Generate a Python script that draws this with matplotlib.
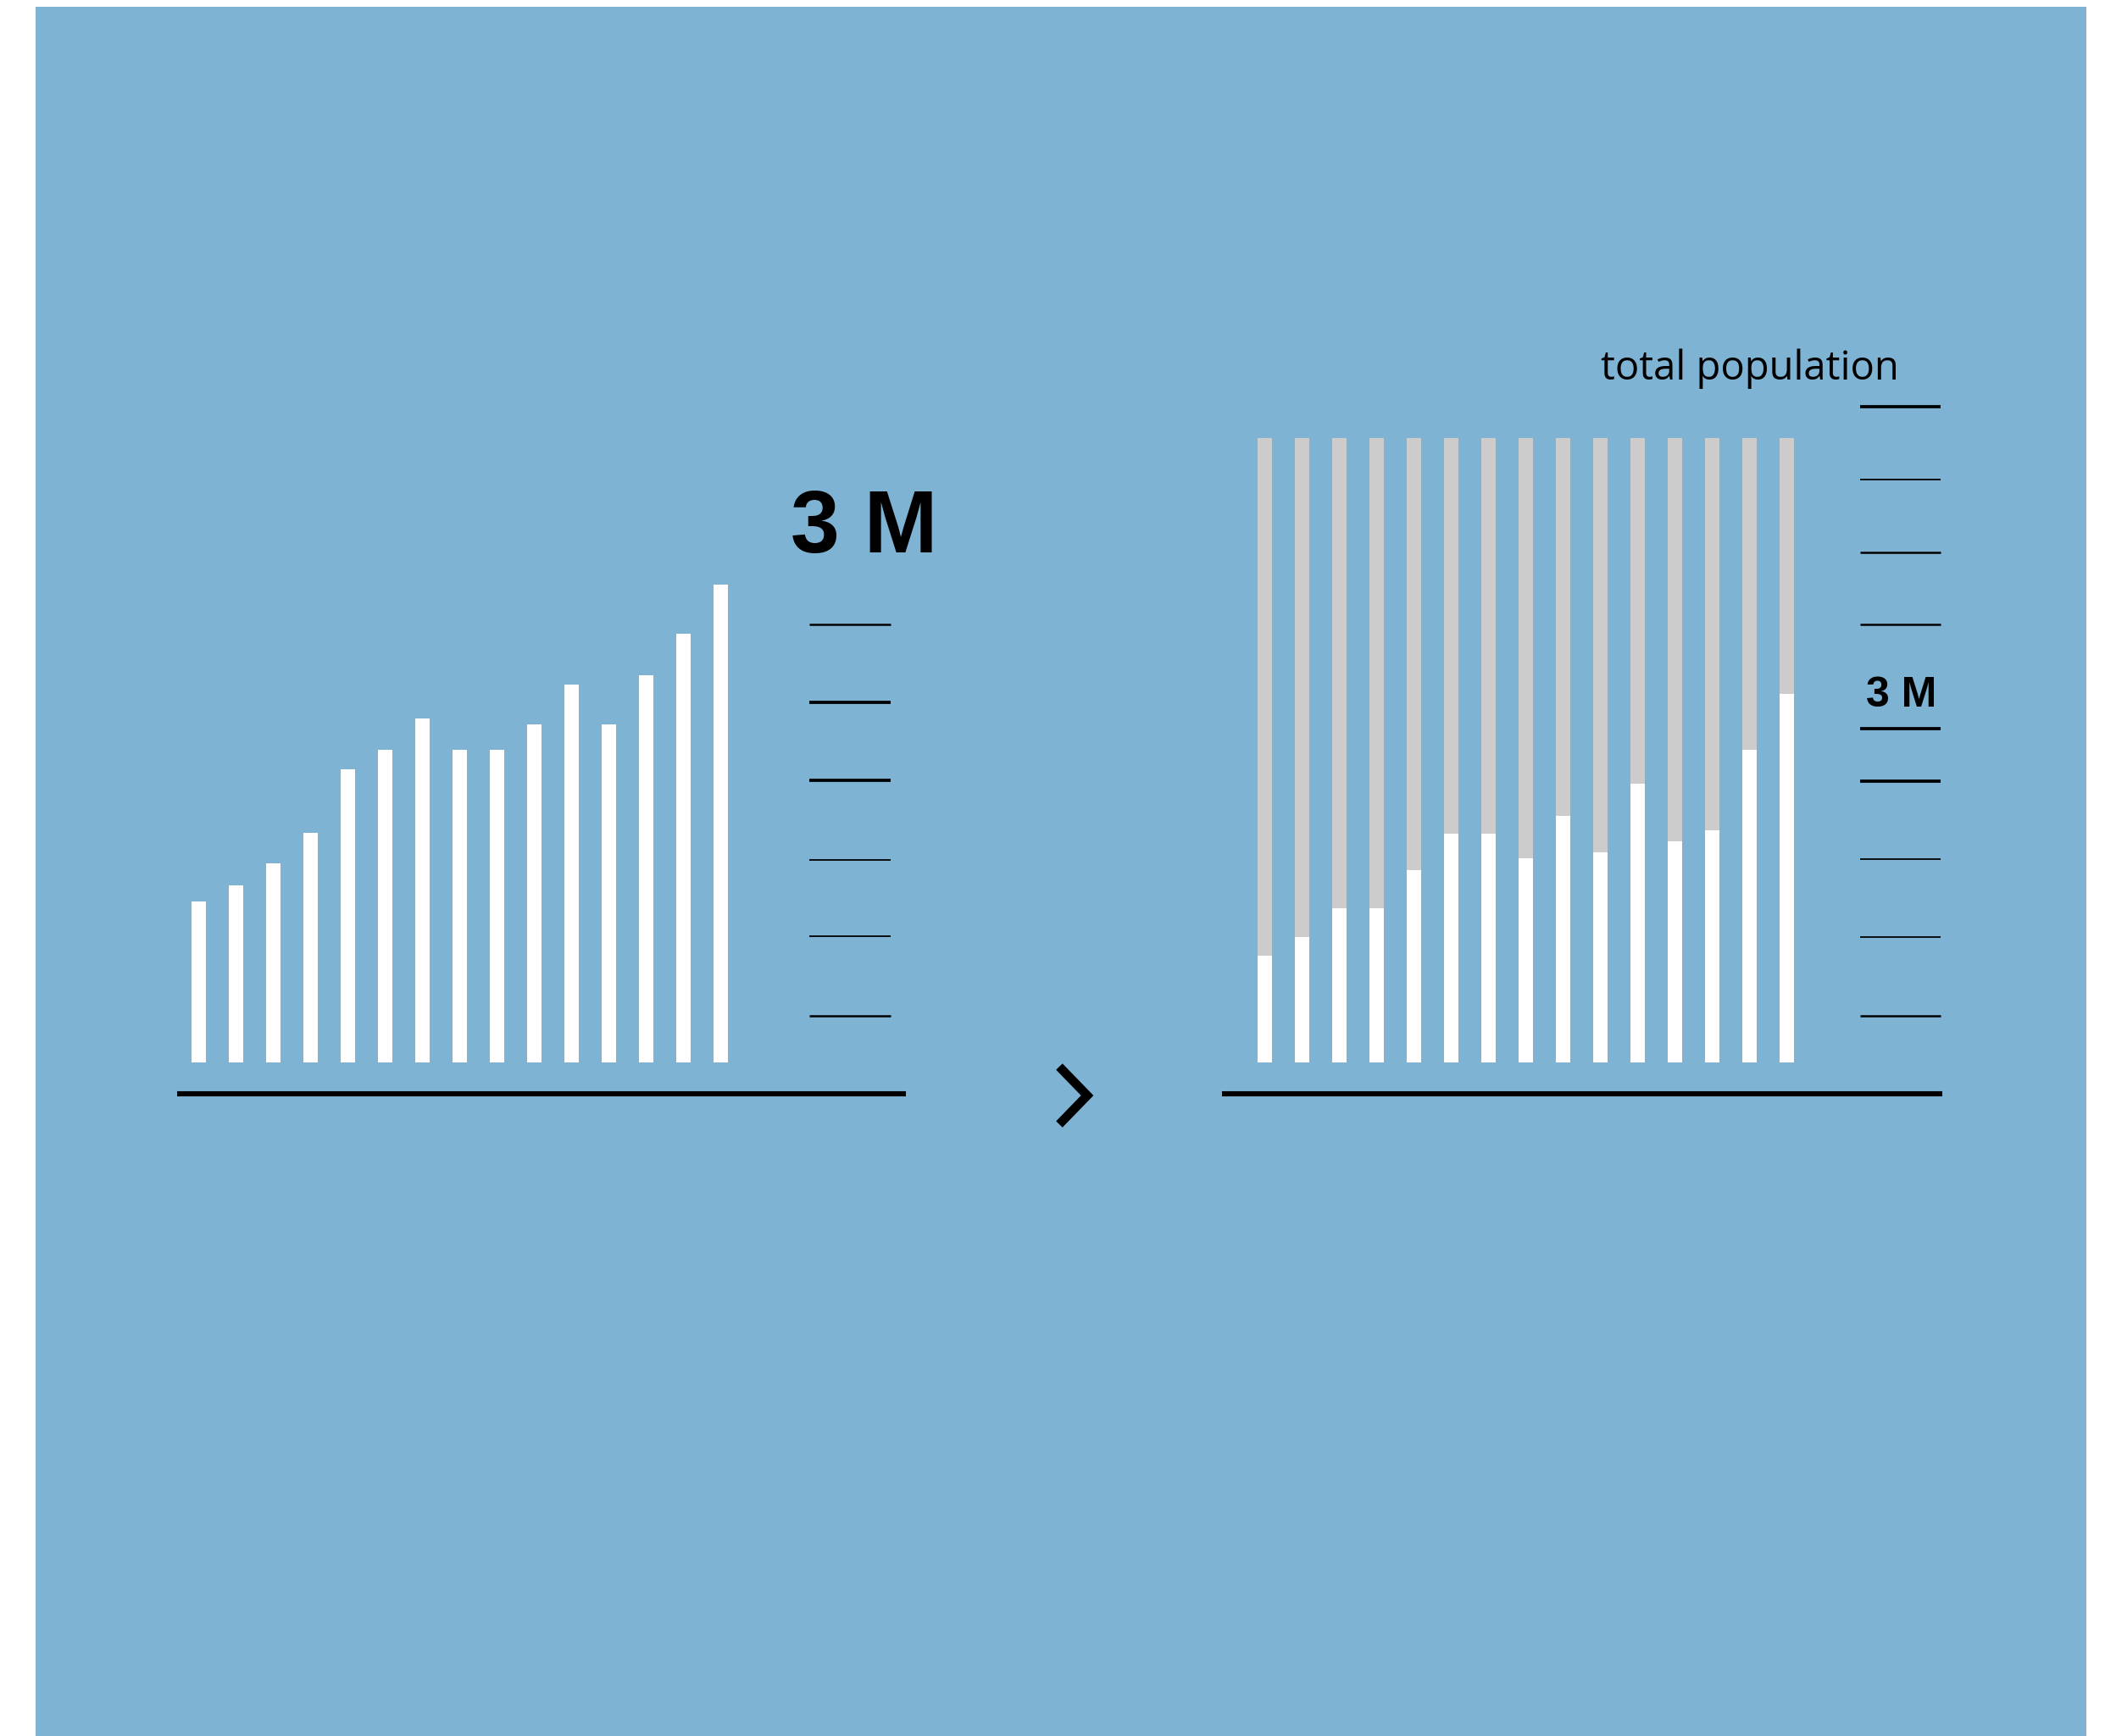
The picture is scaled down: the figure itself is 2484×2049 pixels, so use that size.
import matplotlib
matplotlib.use("Agg")
import matplotlib.pyplot as plt
from matplotlib.patches import Rectangle
from matplotlib.lines import Line2D

# ---------------- data ----------------
left_values = [1.01, 1.11, 1.25, 1.44, 1.84, 1.96, 2.16, 1.96, 1.96, 2.12, 2.37, 2.12, 2.43, 2.69, 3.00]
left_ticks = [0.29, 0.79, 1.27, 1.77, 2.26, 2.75]
left_tick_weights = ["medium", "thin", "thin", "thick", "thick", "medium"]

right_values = [0.96, 1.13, 1.39, 1.39, 1.73, 2.06, 2.06, 1.84, 2.22, 1.89, 2.51, 1.99, 2.09, 2.81, 3.32]
right_totals = [5.62] * 15
right_ticks = [0.42, 1.13, 1.83, 2.53, 3.00, 3.94, 4.59, 5.25, 5.90]
right_tick_weights = ["medium", "thin", "thin", "thick", "thick", "medium", "medium", "thin", "thick"]

big_label = "3 M"
small_label = "3 M"
total_label = "total population"

# ---------------- style ----------------
W, H = 2484, 2049
DPI = 100
BLUE = "#7fb3d4"
GRAY = "#cccccc"
LW = {"thin": 1.3, "medium": 1.8, "thick": 2.7}

fig = plt.figure(figsize=(W / DPI, H / DPI), dpi=DPI)
fig.patch.set_facecolor("white")

def fx(px):
    return px / W

def fy(py):
    return 1 - py / H

# blue background panel
fig.patches.append(Rectangle((fx(42), fy(2049)), fx(2462) - fx(42), fy(8) - fy(2049),
                             transform=fig.transFigure, facecolor=BLUE, edgecolor="none", zorder=-5))

def make_axes(x0, x1, y_base, y_top, bar_bottom, first_center, spacing, px_per_unit):
    ax = fig.add_axes([fx(x0), fy(y_base), fx(x1) - fx(x0), fy(y_top) - fy(y_base)])
    ax.set_zorder(2)
    ax.set_facecolor("none")
    ax.set_xlim((x0 - first_center) / spacing, (x1 - first_center) / spacing)
    ax.set_ylim(-(y_base - bar_bottom) / px_per_unit, (bar_bottom - y_top) / px_per_unit)
    for s in ["top", "left", "right"]:
        ax.spines[s].set_visible(False)
    ax.spines["bottom"].set_linewidth(4.4)
    ax.spines["bottom"].set_color("black")
    ax.spines["bottom"].set_capstyle("butt")
    ax.set_xticks([])
    ax.set_yticks([])
    return ax

# ---------- left chart ----------
axL = make_axes(208.7, 1069, 1290.6, 300, 1253.7, 234.5, 44.0, 187.9)
xs = list(range(len(left_values)))
axL.bar(xs, left_values, width=0.40, color="white", zorder=3)
for t, w in zip(left_ticks, left_tick_weights):
    axL.hlines(t, 0.8675, 0.979, transform=axL.get_yaxis_transform(),
               color="black", linewidth=LW[w], zorder=2)

# ---------- right chart ----------
axR = make_axes(1441.5, 2291.6, 1290.6, 300, 1253.7, 1492.5, 44.0, 131.07)
xs = list(range(len(right_values)))
axR.bar(xs, right_totals, width=0.40, color=GRAY, zorder=2)
axR.bar(xs, right_values, width=0.40, color="white", zorder=3)
for t, w in zip(right_ticks, right_tick_weights):
    axR.hlines(t, 0.8864, 0.998, transform=axR.get_yaxis_transform(),
               color="black", linewidth=LW[w], zorder=2)

# ---------- texts ----------
fig.text(fx(933), fy(651.7), big_label, ha="left", va="baseline",
         fontsize=75, fontweight="bold", family=["Liberation Sans", "DejaVu Sans"], color="black")
fig.text(fx(2202), fy(834), small_label, ha="left", va="baseline",
         fontsize=36, fontweight="bold", family=["Liberation Sans", "DejaVu Sans"], color="black")
fig.text(fx(1889), fy(447.7), total_label, ha="left", va="baseline",
         fontsize=34, family=["Open Sans", "DejaVu Sans"], color="black")

# ---------- chevron arrow ----------
fig.lines.append(Line2D([fx(1250), fx(1283), fx(1250)], [fy(1259), fy(1293), fy(1327)],
                        transform=fig.transFigure, color="black", linewidth=7.6,
                        solid_joinstyle="miter", solid_capstyle="butt", zorder=5))

fig.savefig("out.png", dpi=DPI, facecolor=fig.get_facecolor())
